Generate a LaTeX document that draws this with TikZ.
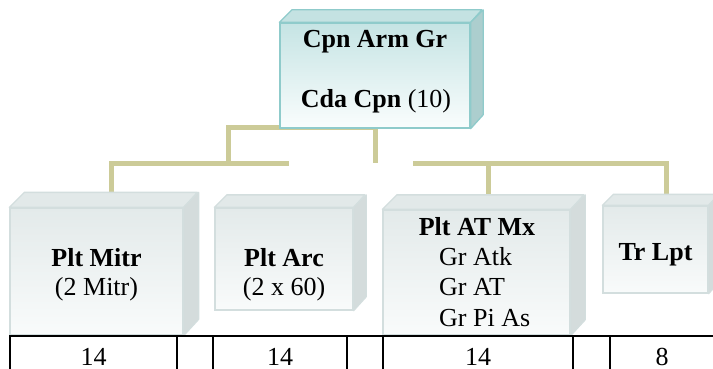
\documentclass[tikz,border=0pt]{standalone}
\usepackage{fontspec}
\setmainfont{Liberation Serif}
\definecolor{conn}{RGB}{204,203,152}
\definecolor{tealborder}{RGB}{143,203,203}
\definecolor{tfront1}{RGB}{197,228,228}
\definecolor{tfront2}{RGB}{250,253,253}
\definecolor{tside}{RGB}{172,206,206}
\definecolor{ttop}{RGB}{196,226,226}
\definecolor{gborder}{RGB}{211,222,222}
\definecolor{gfront1}{RGB}{227,234,234}
\definecolor{gfront2}{RGB}{249,251,251}
\definecolor{gside}{RGB}{212,220,220}
\definecolor{gtop}{RGB}{226,233,233}
\tikzset{
  tealfront/.style={rectangle, inner sep=0pt, draw=tealborder, line width=1.3pt, top color=tfront1, bottom color=tfront2},
  tealside/.style={draw=tealborder, line width=1.3pt, fill=tside, line join=round},
  tealtop/.style={draw=tealborder, line width=1.3pt, fill=ttop, line join=round},
  grayfront/.style={rectangle, inner sep=0pt, draw=gborder, line width=1.3pt, top color=gfront1, bottom color=gfront2},
  grayside/.style={draw=gborder, line width=1.3pt, fill=gside, line join=round},
  graytop/.style={draw=gborder, line width=1.3pt, fill=gtop, line join=round},
  conline/.style={draw=conn, line width=5pt, line join=miter},
  txt/.style={inner sep=0pt, anchor=base, font=\fontsize{26}{30}\selectfont},
  txtl/.style={inner sep=0pt, anchor=base west, font=\fontsize{26}{30}\selectfont},
  tabline/.style={draw=black, line width=2.2pt}
}
% #1 name, #2 style prefix, #3 w, #4 h, #5 depth
\newcommand\cubefaces[5]{%
  \path[#2top] (#1.north west) -- ++(#5,-#5) -- ++(#3,0) -- (#1.north east) -- cycle;
  \path[#2side] (#1.north east) -- ++(#5,-#5) -- ++(0,#4) -- (#1.south east) -- cycle;
}
\begin{document}
\begin{tikzpicture}[x=1pt,y=-1pt]
\useasboundingbox (0,0) rectangle (713,369);

% connector coordinates
\coordinate (c1) at (111.5,195);
\coordinate (c2) at (111.5,163);
\coordinate (c3) at (289,163);
\coordinate (c4) at (228.5,163);
\coordinate (c5) at (228.5,128);
\coordinate (c6) at (375,128);
\coordinate (c7) at (375,163);
\coordinate (c8) at (413,163);
\coordinate (c9) at (666,163);
\coordinate (c10) at (666,196);
\coordinate (c11) at (488.5,163);
\coordinate (c12) at (488.5,196);
\path[conline] (c1) -- (c2) -- (c3);
\path[conline] (c4) -- (c5) -- (c6) -- (c7);
\path[conline] (c8) -- (c9) -- (c10);
\path[conline] (c11) -- (c12);

% top box
\node[tealfront, minimum width=190pt, minimum height=105pt] (top) at (375,75.5) {};
\cubefaces{top}{teal}{190}{105}{12.5}
\node[tealfront, minimum width=190pt, minimum height=105pt] at (375,75.5) {};
\node[txt] (t1) at (375,48) {\textbf{Cpn Arm Gr}};
\node[txt] (t2) at (376,108) {\textbf{Cda Cpn} (10)};

% bottom boxes
\node[grayfront, minimum width=173pt, minimum height=127pt] (mitr) at (96.5,271.5) {};
\cubefaces{mitr}{gray}{173}{127}{15}
\node[grayfront, minimum width=173pt, minimum height=127pt] at (96.5,271.5) {};
\node[txt] (m1) at (96.5,266) {\textbf{Plt Mitr}};
\node[txt] (m2) at (96.5,295) {(2 Mitr)};

\node[grayfront, minimum width=138pt, minimum height=102pt] (arc) at (284,259) {};
\cubefaces{arc}{gray}{138}{102}{12.5}
\node[grayfront, minimum width=138pt, minimum height=102pt] at (284,259) {};
\node[txt] (a1) at (284,266) {\textbf{Plt Arc}};
\node[txt] (a2) at (284,295) {(2 x 60)};

\node[grayfront, minimum width=187pt, minimum height=125pt] (atmx) at (476.5,272.5) {};
\cubefaces{atmx}{gray}{187}{125}{14.5}
\node[grayfront, minimum width=187pt, minimum height=125pt] at (476.5,272.5) {};
\node[txt] (x1) at (477,235) {\textbf{Plt AT Mx}};
\node[txtl] (x2) at (439,265) {Gr Atk};
\node[txtl] (x3) at (439,295) {Gr AT};
\node[txtl] (x4) at (439,326) {Gr Pi As};

\node[grayfront, minimum width=105pt, minimum height=87pt] (lpt) at (655.5,249.5) {};
\cubefaces{lpt}{gray}{105}{87}{11}
\node[grayfront, minimum width=105pt, minimum height=87pt] at (655.5,249.5) {};
\node[txt] (l1) at (655.5,260) {\textbf{Tr Lpt}};

% table
\coordinate (h1) at (9,336);
\coordinate (h2) at (713,336);
\path[tabline] (h1) -- (h2);
\foreach \xx in {10,177,213,347,383,573,610}{
  \path[tabline] (\xx,335) -- (\xx,370);
}
\node[txt] (n1) at (93.5,365) {14};
\node[txt] (n2) at (280,365) {14};
\node[txt] (n3) at (478,365) {14};
\node[txt] (n4) at (662,365) {8};
\end{tikzpicture}
\end{document}
